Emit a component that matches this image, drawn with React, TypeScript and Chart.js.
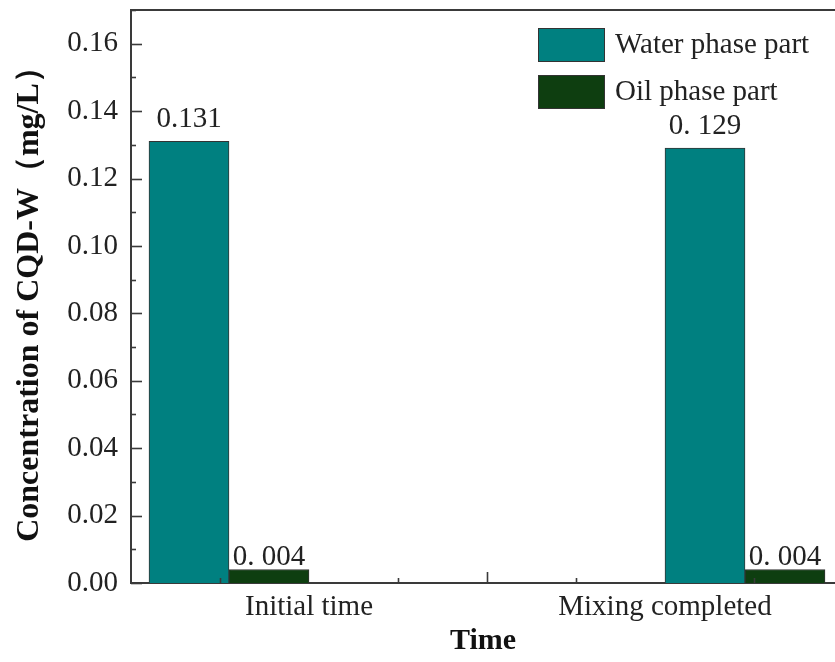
import React, { useEffect, useRef } from "react";
import { Chart, registerables } from "chart.js";

Chart.register(...registerables);

// ---------- data ----------
const categories = ["Initial time", "Mixing completed"];
const seriesNames = ["Water phase part", "Oil phase part"];
const waterValues = [0.131, 0.129];
const oilValues = [0.004, 0.004];
const waterLabels = ["0.131", "0. 129"];
const oilLabels = ["0. 004", "0. 004"];
const yTickValues = [0, 0.02, 0.04, 0.06, 0.08, 0.1, 0.12, 0.14, 0.16];
const yTickLabels = ["0.00", "0.02", "0.04", "0.06", "0.08", "0.10", "0.12", "0.14", "0.16"];
const yMax = 0.17;

// ---------- layout / style ----------
const W = 835;
const H = 662;
const FONT = "'Liberation Serif', 'Times New Roman', serif";
const TEXT = "#222222";
const AXIS = "#3a3a3a";
const COLORS = ["#008080", "#0e3e10"];
const UNIT_PX = 356; // px per category step
const BAR_PX = 80;
const PLOT_LEFT = 131;
const PLOT_TOP = 10;
const X_AXIS_H = 79;
const GROUP_SIDE = [-1, 1]; // group drawn left / right of its category tick
const LABEL_GAP = [14, 5];

const barUnits = BAR_PX / UNIT_PX;
const xMin = 0.5;
const xMax = xMin + (W - PLOT_LEFT) / UNIT_PX;

function barX(catIdx: number, seriesIdx: number): number {
  const c = catIdx + 1;
  if (GROUP_SIDE[catIdx] < 0) return c - (1.5 - seriesIdx) * barUnits;
  return c + (0.5 + seriesIdx) * barUnits;
}

const seriesValues = [waterValues, oilValues];
const seriesLabels = [waterLabels, oilLabels];

const decorPlugin = {
  id: "decor",
  afterDatasetsDraw(chart: any) {
    const { ctx, chartArea, scales } = chart;
    const xs = scales.x;
    const ys = scales.y;
    ctx.save();
    // top frame line
    ctx.strokeStyle = AXIS;
    ctx.lineWidth = 2;
    ctx.beginPath();
    ctx.moveTo(chartArea.left, chartArea.top);
    ctx.lineTo(chartArea.right, chartArea.top);
    ctx.stroke();

    // inward y ticks
    ctx.lineWidth = 1.6;
    for (let k = 0; k <= 17; k++) {
      const v = k * 0.01;
      const y = Math.round(ys.getPixelForValue(v)) + 0.5;
      const major = k % 2 === 0;
      const len = major ? 11 : 5;
      ctx.beginPath();
      ctx.moveTo(chartArea.left, y);
      ctx.lineTo(chartArea.left + len, y);
      ctx.stroke();
    }
    // inward x ticks
    for (let k = 3; k * 0.25 < xMax; k++) {
      const v = k * 0.25;
      if (k % 4 === 0) continue;
      const isMajor = k === 6;
      const x = Math.round(xs.getPixelForValue(v)) + 0.5;
      const len = isMajor ? 11 : 5;
      ctx.beginPath();
      ctx.moveTo(x, chartArea.bottom);
      ctx.lineTo(x, chartArea.bottom - len);
      ctx.stroke();
    }

    // value labels
    ctx.fillStyle = TEXT;
    ctx.font = `29px ${FONT}`;
    ctx.textAlign = "center";
    ctx.textBaseline = "alphabetic";
    chart.data.datasets.forEach((ds: any, di: number) => {
      const meta = chart.getDatasetMeta(di);
      meta.data.forEach((el: any, i: number) => {
        ctx.fillText(seriesLabels[di][i], el.x, el.y - LABEL_GAP[di]);
      });
    });

    // legend
    const boxX = 538;
    const boxW = 66;
    const boxH = 33;
    const rows = [28, 75];
    ctx.textAlign = "left";
    ctx.textBaseline = "middle";
    seriesNames.forEach((name, i) => {
      ctx.fillStyle = COLORS[i];
      ctx.fillRect(boxX, rows[i], boxW, boxH);
      ctx.strokeStyle = "#333";
      ctx.lineWidth = 1;
      ctx.strokeRect(boxX + 0.5, rows[i] + 0.5, boxW, boxH);
      ctx.fillStyle = TEXT;
      ctx.fillText(name, 615, rows[i] + boxH / 2 + 1);
    });
    ctx.restore();
  },
};

export default function App() {
  const ref = useRef<HTMLCanvasElement | null>(null);

  useEffect(() => {
    if (!ref.current) return;
    const datasets = seriesNames.map((name, si) => ({
      label: name,
      data: categories.map((_, ci) => ({ x: barX(ci, si), y: seriesValues[si][ci] })),
      backgroundColor: COLORS[si],
      borderColor: "#333",
      borderWidth: 1,
      barThickness: BAR_PX,
      grouped: false,
    }));

    const chart = new Chart(ref.current, {
      type: "bar",
      data: { datasets } as any,
      plugins: [decorPlugin],
      options: {
        animation: false,
        responsive: false,
        maintainAspectRatio: false,
        layout: { padding: { top: PLOT_TOP, left: 0, right: 0, bottom: 0 } },
        plugins: {
          legend: { display: false },
          tooltip: { enabled: false },
        },
        scales: {
          x: {
            type: "linear",
            min: xMin,
            max: xMax,
            offset: false,
            grid: { display: false, drawTicks: false, offset: false },
            border: { display: true, color: AXIS, width: 2 },
            afterBuildTicks: (scale: any) => {
              scale.ticks = categories.map((_, i) => ({ value: i + 1 }));
            },
            afterFit: (scale: any) => {
              scale.height = X_AXIS_H;
              scale.paddingLeft = 0;
              scale.paddingRight = 0;
            },
            ticks: {
              padding: 7,
              autoSkip: false,
              maxRotation: 0,
              color: TEXT,
              font: { family: FONT, size: 29 },
              callback: (_v: any, i: number) => categories[i],
            },
            title: {
              display: true,
              text: "Time",
              color: "#111",
              font: { family: FONT, size: 30, weight: "bold" },
              padding: { top: 0, bottom: 3 },
            },
          },
          y: {
            type: "linear",
            min: 0,
            max: yMax,
            grid: { display: false, drawTicks: false },
            border: { display: true, color: AXIS, width: 2 },
            afterBuildTicks: (scale: any) => {
              scale.ticks = yTickValues.map((v) => ({ value: v }));
            },
            afterFit: (scale: any) => {
              scale.width = PLOT_LEFT;
              scale.paddingTop = 0;
              scale.paddingBottom = 0;
            },
            ticks: {
              padding: 13,
              color: TEXT,
              font: { family: FONT, size: 29 },
              callback: (_v: any, i: number) => yTickLabels[i],
            },
            title: {
              display: true,
              text: "Concentration of CQD-W（mg/L）",
              color: "#111",
              font: { family: FONT, size: 32, weight: "bold" },
              padding: { top: 11, bottom: 0 },
            },
          },
        },
      } as any,
    });
    return () => chart.destroy();
  }, []);

  return (
    <div style={{ position: "absolute", left: 0, top: 0, width: W, height: H, background: "#fff" }}>
      <canvas ref={ref} width={W} height={H} style={{ width: W, height: H, display: "block" }} />
    </div>
  );
}
